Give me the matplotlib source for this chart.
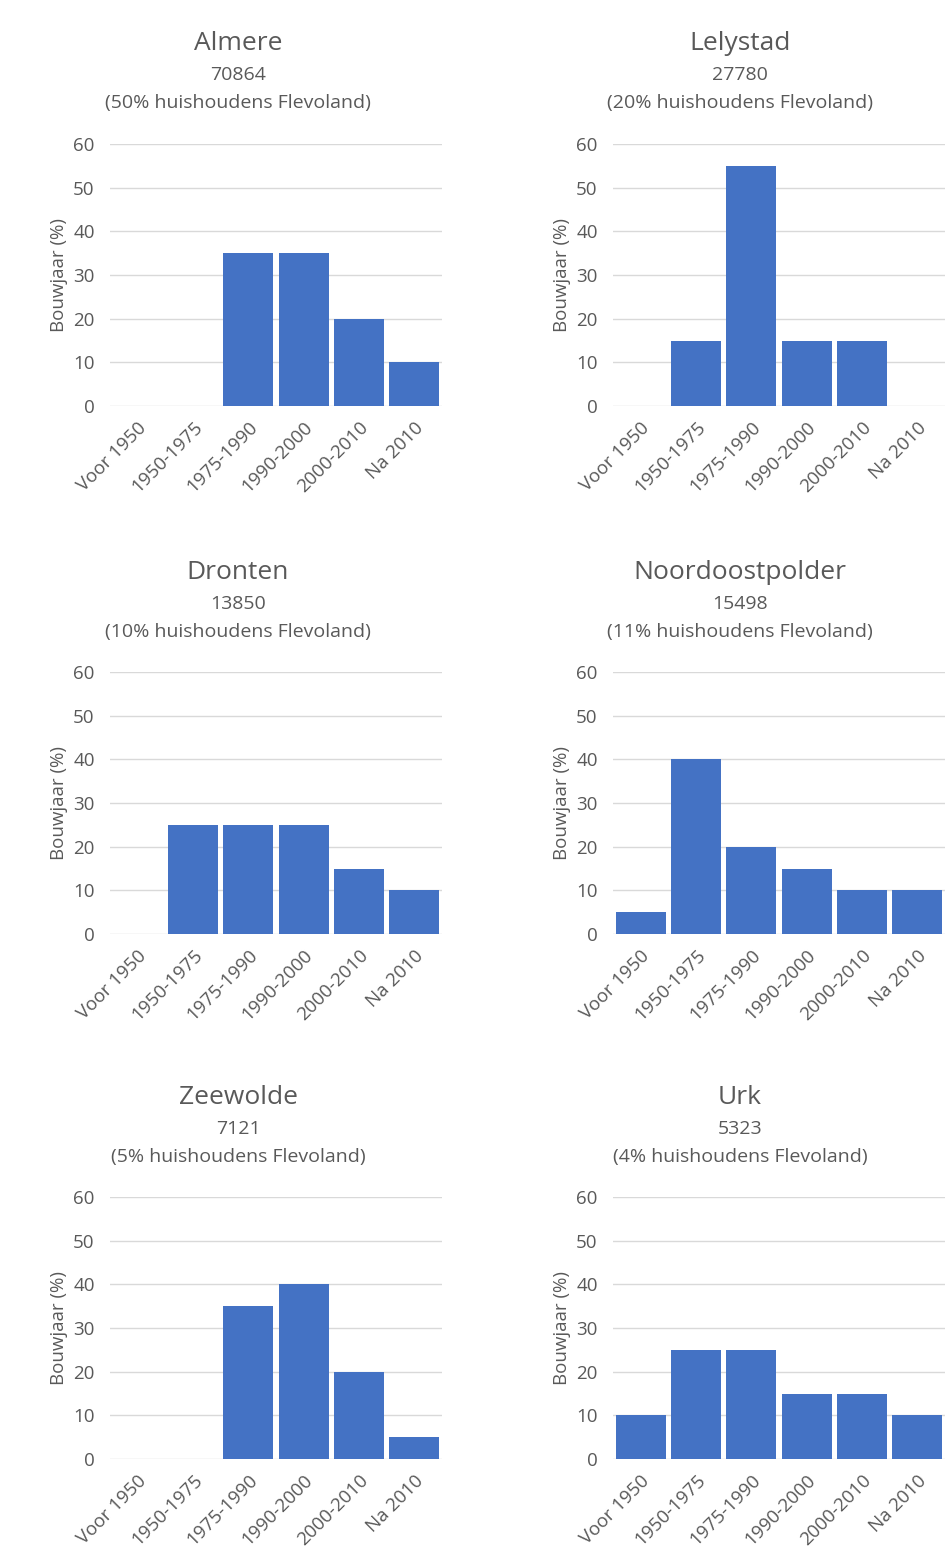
import matplotlib
matplotlib.use("Agg")
import matplotlib.pyplot as plt

categories = ["Voor 1950", "1950-1975", "1975-1990", "1990-2000", "2000-2010", "Na 2010"]
gemeenten = ["Almere", "Lelystad", "Dronten", "Noordoostpolder", "Zeewolde", "Urk"]
huishoudens = ["70864", "27780", "13850", "15498", "7121", "5323"]
aandeel = ["50%", "20%", "10%", "11%", "5%", "4%"]

almere = [0, 0, 35, 35, 20, 10]
lelystad = [0, 15, 55, 15, 15, 0]
dronten = [0, 25, 25, 25, 15, 10]
noordoostpolder = [5, 40, 20, 15, 10, 10]
zeewolde = [0, 0, 35, 40, 20, 5]
urk = [10, 25, 25, 15, 15, 10]
waarden = [almere, lelystad, dronten, noordoostpolder, zeewolde, urk]

W, H = 946, 1555
plt.rcParams['font.family'] = ['Open Sans', 'DejaVu Sans']
fig = plt.figure(figsize=(W / 100, H / 100), dpi=100)

blue = "#4472C4"
grey = "#595959"
col_x = [110, 613]
title_x = [238, 740]
row_zero = [406, 934, 1459]
row_top = [144, 672, 1197]
title_y = [44, 573, 1098]

for i, naam in enumerate(gemeenten):
    r, c = i // 2, i % 2
    left = col_x[c] / W
    bottom = 1 - row_zero[r] / H
    height = (row_zero[r] - row_top[r]) / H
    ax = fig.add_axes([left, bottom, 332 / W, height])
    ax.bar(range(len(categories)), waarden[i], width=0.9, color=blue, zorder=3)
    ax.set_xlim(-0.5, len(categories) - 0.5)
    ax.set_ylim(0, 60)
    ax.set_yticks(range(0, 61, 10))
    ax.yaxis.grid(True, color="#d9d9d9", linewidth=1, zorder=0)
    for s in ax.spines.values():
        s.set_visible(False)
    ax.tick_params(length=0, colors=grey, labelsize=13.5)
    ax.tick_params(axis="y", pad=11)
    ax.tick_params(axis="x", pad=9)
    ax.set_xticks(range(len(categories)))
    ax.set_xticklabels(categories, rotation=45, ha="right", rotation_mode="anchor")
    ax.set_ylabel("Bouwjaar (%)", color=grey, fontsize=13.5, labelpad=4)

    tx = title_x[c] / W
    fig.text(tx, 1 - title_y[r] / H, naam, ha="center", va="center", fontsize=19, color=grey)
    fig.text(tx, 1 - (title_y[r] + 31) / H, huishoudens[i], ha="center", va="center",
             fontsize=14, color=grey)
    fig.text(tx, 1 - (title_y[r] + 59) / H, "(" + aandeel[i] + " huishoudens Flevoland)",
             ha="center", va="center", fontsize=14, color=grey)

fig.savefig("out.png", dpi=100, facecolor="white")
